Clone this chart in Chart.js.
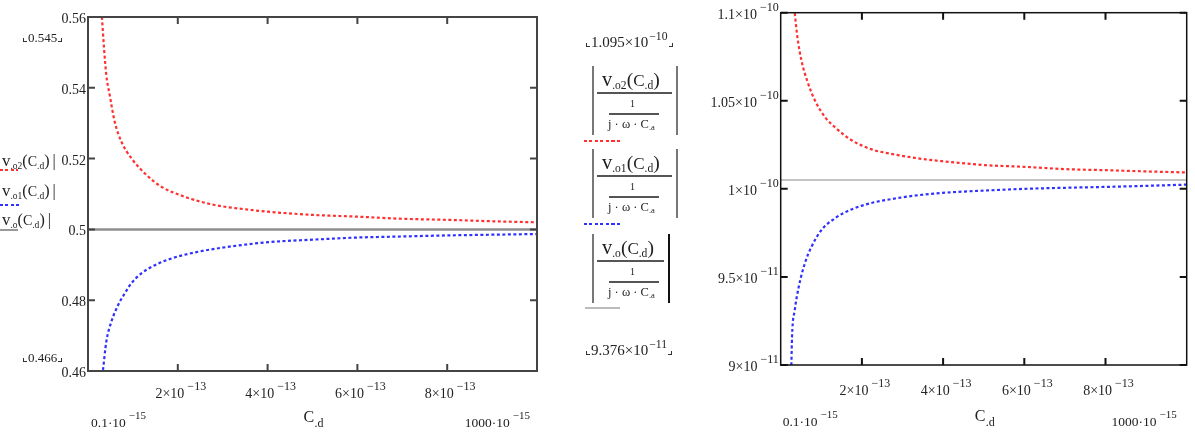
<!DOCTYPE html>
<html>
<head>
<meta charset="utf-8">
<script src="https://cdn.jsdelivr.net/npm/chart.js@4.4.0/dist/chart.umd.min.js"></script>
<style>
body { margin: 0; background: #fff; width: 1195px; height: 432px; overflow: hidden; position: relative; font-family: "Liberation Serif", serif; color: #222; }
.wrap { position: absolute; top: 0; height: 432px; }
.t { position: absolute; white-space: nowrap; line-height: 1; }
.t sub { font-size: 0.68em; position: relative; top: 0.32em; vertical-align: baseline; line-height: 0; }
.t sup { font-size: 0.78em; position: relative; top: -0.6em; vertical-align: baseline; line-height: 0; margin-left: 1px; }
.vv { font-size: 1.2em; }
.pp { font-size: 1.15em; }
.hl { position: absolute; height: 2px; }
.cm { display: inline-block; width: 3px; height: 3px; border-bottom: 1.5px solid #333; }
.cl { border-left: 1.5px solid #333; margin-right: 1px; }
.cr { border-right: 1.5px solid #333; margin-left: 1px; }
</style>
</head>
<body>
<div class="wrap" style="left:0;width:560px"><canvas id="chartL"></canvas></div>
<div class="wrap" style="left:640px;width:555px"><canvas id="chartR"></canvas></div>
<div id="txt"></div>
<script>
// left plot: |v.o2|, |v.o1|, |v.o| against C.d
const cdRedL = [3.1e-14, 3.57e-14, 4.08e-14, 4.83e-14, 5.95e-14, 7.43e-14, 9.66e-14, 1.3e-13, 1.63e-13, 2.16e-13, 2.82e-13, 3.49e-13, 4.01e-13, 5e-13, 6e-13, 7e-13, 8e-13, 9e-13, 1e-12];
const vo2L = [0.56, 0.5512, 0.5436, 0.538, 0.5304, 0.5248, 0.5201, 0.5154, 0.5121, 0.5092, 0.5069, 0.5057, 0.505, 0.5041, 0.5036, 0.503, 0.5027, 0.5023, 0.502];
const cdBlueL = [3.34e-14, 4.08e-14, 5.2e-14, 6.69e-14, 8.18e-14, 9.66e-14, 1.19e-13, 1.49e-13, 1.86e-13, 2.38e-13, 2.97e-13, 3.57e-13, 4.01e-13, 5e-13, 6e-13, 7e-13, 8e-13, 9e-13, 1e-12];
const vo1L = [0.4603, 0.4683, 0.4739, 0.4786, 0.4819, 0.4848, 0.4876, 0.4899, 0.4918, 0.4935, 0.4948, 0.4958, 0.4964, 0.4971, 0.4977, 0.498, 0.4983, 0.4985, 0.4987];
const cdGray = [1e-16, 1e-12];
const voL = [0.5, 0.5];

// right plot: the same divided by 1/(j*w*C.a)
const cdRedR = [3.46e-14, 4.1e-14, 5.09e-14, 6.74e-14, 8.39e-14, 1.086e-13, 1.37e-13, 1.74e-13, 2.24e-13, 2.81e-13, 3.39e-13, 3.97e-13, 4.38e-13, 5e-13, 6e-13, 7e-13, 8e-13, 9e-13, 1e-12];
const vo2R = [1.0997e-10, 1.0864e-10, 1.0731e-10, 1.0599e-10, 1.0504e-10, 1.0409e-10, 1.0343e-10, 1.0277e-10, 1.0224e-10, 1.0195e-10, 1.0173e-10, 1.0157e-10, 1.0148e-10, 1.0135e-10, 1.0125e-10, 1.0112e-10, 1.0106e-10, 1.0099e-10, 1.0093e-10];
const cdBlueR = [2.63e-14, 2.79e-14, 3.46e-14, 4.44e-14, 5.93e-14, 7.56e-14, 1e-13, 1.33e-13, 1.74e-13, 2.24e-13, 2.81e-13, 3.39e-13, 3.97e-13, 4.38e-13, 5e-13, 6e-13, 7e-13, 8e-13, 9e-13, 1e-12];
const vo1R = [9e-11, 9.159e-11, 9.311e-11, 9.443e-11, 9.576e-11, 9.67e-11, 9.765e-11, 9.832e-11, 9.883e-11, 9.92e-11, 9.945e-11, 9.964e-11, 9.977e-11, 9.983e-11, 9.99e-11, 1e-10, 1.0006e-10, 1.0011e-10, 1.0017e-10, 1.0024e-10];
const voR = [1.005e-10, 1.005e-10];

// ticks
const xTicks = [2e-13, 4e-13, 6e-13, 8e-13];
const xTickText = ['2×10', '4×10', '6×10', '8×10'];
const xTickExp = '−13';
const yTicksL = [0.56, 0.54, 0.52, 0.5, 0.48, 0.46];
const yTickTextL = ['0.56', '0.54', '0.52', '0.5', '0.48', '0.46'];
const yTicksR = [1.1e-10, 1.05e-10, 1e-10, 9.5e-11, 9e-11];
const yTickTextR = ['1.1×10', '1.05×10', '1×10', '9.5×10', '9×10'];
const yTickExpR = ['−10', '−10', '−10', '−11', '−11'];

const RED = '#ff3030';
const BLUE = '#3030ff';
const FONT = '"Liberation Serif", serif';

const pts = (xs, ys) => xs.map((x, i) => ({ x: x, y: ys[i] }));

function curve(xs, ys, color) {
    return {
        data: pts(xs, ys),
        borderColor: color,
        borderWidth: 2.2,
        borderDash: [3, 2.5],
        pointRadius: 0,
        cubicInterpolationMode: 'monotone',
        fill: false
    };
}

function drawPow(ctx, mant, exp, x, y, align, big) {
    const bs = big ? 14 : 13.5;
    const es = big ? 12 : 11;
    ctx.font = bs + 'px ' + FONT;
    const w1 = ctx.measureText(mant).width;
    ctx.font = es + 'px ' + FONT;
    const w2 = exp ? ctx.measureText(exp).width + 3 : 0;
    let x0 = x;
    if (align === 'right') x0 = x - w1 - w2;
    if (align === 'center') x0 = x - (w1 + w2) / 2;
    ctx.textAlign = 'left';
    ctx.textBaseline = 'alphabetic';
    ctx.font = bs + 'px ' + FONT;
    ctx.fillText(mant, x0, y);
    if (exp) {
        ctx.font = es + 'px ' + FONT;
        ctx.fillText(exp, x0 + w1 + 3, y - 8);
    }
}

function framePlugin(o) {
    return {
        id: 'frame',
        afterDraw(chart) {
            const ctx = chart.ctx;
            const a = chart.chartArea;
            const x = chart.scales.x;
            const y = chart.scales.y;
            ctx.save();
            ctx.strokeStyle = o.frameColor;
            ctx.lineWidth = o.frameWidth;
            ctx.strokeRect(a.left, a.top, a.right - a.left, a.bottom - a.top);
            ctx.lineWidth = 2;
            ctx.beginPath();
            xTicks.forEach(v => {
                const px = x.getPixelForValue(v);
                ctx.moveTo(px, a.bottom); ctx.lineTo(px, a.bottom - 7);
                ctx.moveTo(px, a.top); ctx.lineTo(px, a.top + 7);
            });
            o.yTicks.forEach(v => {
                const py = y.getPixelForValue(v);
                ctx.moveTo(a.left, py); ctx.lineTo(a.left + 7, py);
                ctx.moveTo(a.right, py); ctx.lineTo(a.right - 7, py);
            });
            ctx.stroke();

            ctx.fillStyle = '#222';
            o.yTicks.forEach((v, i) => {
                drawPow(ctx, o.yText[i], o.yExp ? o.yExp[i] : '', a.left - 2, y.getPixelForValue(v) + 6, 'right', true);
            });
            xTicks.forEach((v, i) => {
                drawPow(ctx, xTickText[i], xTickExp, x.getPixelForValue(v) + 3, a.bottom + o.tickGap, 'center', true);
            });
            drawPow(ctx, '0.1·10', '−15', a.left + o.lowPad, a.bottom + o.rowGap, 'left', false);
            drawPow(ctx, '1000·10', '−15', a.right - o.highPad, a.bottom + o.rowGap, 'right', false);
            // axis name C.d
            const cx = (a.left + a.right) / 2;
            ctx.font = '16px ' + FONT;
            ctx.fillText('C', cx - 9, a.bottom + o.rowGap - 5);
            ctx.font = '12px ' + FONT;
            ctx.fillText('.d', cx + 2, a.bottom + o.rowGap);
            ctx.restore();
        }
    };
}

function makeChart(id, datasets, yMin, yMax, pad, frame) {
    return new Chart(document.getElementById(id), {
        type: 'scatter',
        data: { datasets: datasets },
        options: {
            responsive: true,
            maintainAspectRatio: false,
            animation: false,
            showLine: true,
            layout: { padding: pad },
            plugins: { legend: { display: false }, tooltip: { enabled: false } },
            scales: {
                x: { type: 'linear', min: 0, max: 1e-12, display: false },
                y: { type: 'linear', min: yMin, max: yMax, display: false }
            }
        },
        plugins: [framePlugin(frame)]
    });
}

makeChart('chartL', [
    { data: pts(cdGray, voL), borderColor: '#8e8e8e', borderWidth: 2.5, pointRadius: 0 },
    curve(cdRedL, vo2L, RED),
    curve(cdBlueL, vo1L, BLUE)
], 0.46, 0.56, { left: 88, top: 17, right: 23, bottom: 61 },
    { frameColor: '#444', frameWidth: 2, yTicks: yTicksL, yText: yTickTextL, tickGap: 27, rowGap: 56, lowPad: 3, highPad: 7 });

makeChart('chartR', [
    { data: pts(cdGray, voR), borderColor: '#c4c4c4', borderWidth: 2, pointRadius: 0 },
    curve(cdRedR, vo2R, RED),
    curve(cdBlueR, vo1R, BLUE)
], 9e-11, 1.1e-10, { left: 140.7, top: 12.7, right: 8.3, bottom: 67 },
    { frameColor: '#111', frameWidth: 1.5, yTicks: yTicksR, yText: yTickTextR, yExp: yTickExpR, tickGap: 30, rowGap: 61, lowPad: 2, highPad: 10 });

// formula legends as html text
const txt = document.getElementById('txt');
function put(html, x, base, size) {
    const d = document.createElement('div');
    d.className = 't';
    d.style.left = x + 'px';
    d.style.top = (base - size * 0.84) + 'px';
    d.style.fontSize = size + 'px';
    d.innerHTML = html;
    txt.appendChild(d);
    return d;
}
function rule(x, y, w, h, bg) {
    const d = document.createElement('div');
    d.className = 'hl';
    d.style.cssText = `left:${x}px;top:${y}px;width:${w}px;height:${h}px;background:${bg}`;
    txt.appendChild(d);
}
const dash = c => `repeating-linear-gradient(90deg, ${c} 0 3px, transparent 3px 5.5px)`;
const fV = s => `<span class="vv">v</span><sub>${s}</sub><span class="pp">(</span>C<sub>.d</sub><span class="pp">)</span>`;

// left legend
put(fV('.o2') + '<span class="pp" style="margin-left:3px">|</span>', 2, 165, 14);
rule(0, 169, 18, 2, dash(RED));
put(fV('.o1') + '<span class="pp" style="margin-left:3px">|</span>', 2, 195, 14);
rule(0, 204, 22, 2, dash(BLUE));
put(fV('.o') + '<span class="pp" style="margin-left:3px">|</span>', 2, 224, 14);
rule(0, 229, 18, 2, '#999');
put('<span class="cm cl"></span>0.545<span class="cm cr"></span>', 23, 42, 13);
put('<span class="cm cl"></span>0.466<span class="cm cr"></span>', 23, 362, 13);

// middle legend
function frac(L, name, rx, rcol) {
    rule(592, L - 27, 2, 69, '#777');
    rule(rx, L - 27, 2, 69, rcol);
    put(fV(name), 602, L - 10, 17);
    rule(597, L - 1, rx - 601, 2, '#555');
    put('1', 630, L + 14, 10);
    rule(609, L + 20, 50, 1.5, '#555');
    put('j · ω · C<sub>.a</sub>', 608, L + 35, 12.5);
}
put('<span class="cm cl"></span>1.095×10<sup>−10</sup><span class="cm cr"></span>', 586, 48, 15);
frac(93, '.o2', 676, '#777');
rule(584, 140, 36, 2, dash(RED));
frac(176, '.o1', 676, '#777');
rule(584, 223, 36, 2, dash(BLUE));
frac(261, '.o', 668, '#111');
rule(585, 307, 35, 2, '#bbb');
put('<span class="cm cl"></span>9.376×10<sup>−11</sup><span class="cm cr"></span>', 586, 356, 15);
</script>
</body>
</html>
